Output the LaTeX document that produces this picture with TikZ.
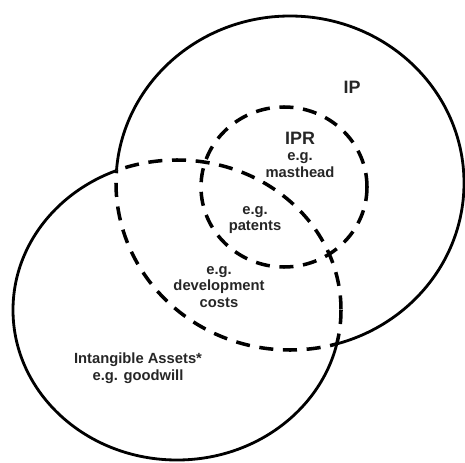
\documentclass[tikz,border=0pt]{standalone}
\usepackage{fontspec}
\setmainfont{Liberation Sans}
\begin{document}
\begin{tikzpicture}[x=0.02cm,y=-0.02cm,
  outline/.style={line width=1.6pt},
  dashline/.style={line width=2pt, dash pattern=on 8pt off 5.5pt},
  lbl/.style={font=\bfseries\fontsize{8.4}{9.6}\selectfont, align=center, inner sep=0pt, text=black!85},
  biglbl/.style={font=\bfseries\fontsize{10.2}{12}\selectfont, inner sep=0pt, text=black!85}]
\useasboundingbox (0,0) rectangle (465,462);
% IP region (top right), IA region (bottom left)
\begin{scope}[even odd rule]
  \clip (-20,-20) rectangle (485,482) (177,310) ellipse [x radius=164, y radius=150];
  \draw[outline] (290,183) ellipse [x radius=174, y radius=167];
\end{scope}
\begin{scope}
  \clip (177,310) ellipse [x radius=164, y radius=150];
  \draw[dashline] (290,183) ellipse [x radius=174, y radius=167];
\end{scope}
\begin{scope}[even odd rule]
  \clip (-20,-20) rectangle (485,482) (290,183) ellipse [x radius=174, y radius=167];
  \draw[outline] (177,310) ellipse [x radius=164, y radius=150];
\end{scope}
\begin{scope}
  \clip (290,183) ellipse [x radius=174, y radius=167];
  \draw[dashline] (177,310) ellipse [x radius=164, y radius=150];
\end{scope}
% IPR
\draw[dashline] (284,187) ellipse [x radius=83, y radius=80];
% labels
\node[biglbl] (ip) at (352,87) {IP};
\node[biglbl] (ipr) at (300,138) {IPR};
\node[lbl] (mast) at (300,165) {e.g.\\masthead};
\node[lbl] (pat) at (255,220) {e.g.\\patents};
\node[lbl] (dev) at (219,287) {e.g.\\development\\costs};
\node[lbl] (ia) at (138,368) {Intangible Assets*\\e.g. goodwill};
\end{tikzpicture}
\end{document}
